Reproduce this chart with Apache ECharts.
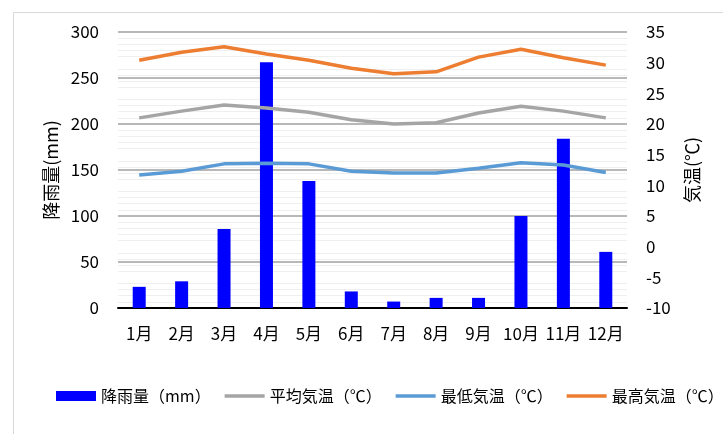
<!DOCTYPE html>
<html>
<head>
<meta charset="utf-8">
<script src="https://cdn.jsdelivr.net/npm/echarts@6/dist/echarts.min.js"></script>
<style>
html,body{margin:0;padding:0;background:#fff;}
#c{width:723px;height:434px;}
</style>
</head>
<body>
<div id="c"></div>
<script>
const months = ['1月','2月','3月','4月','5月','6月','7月','8月','9月','10月','11月','12月'];
const rainfall = [23, 29, 86, 267, 138, 18, 7, 11, 11, 100, 184, 61];
const avgTemp = [21.0, 22.1, 23.1, 22.6, 21.9, 20.7, 20.0, 20.2, 21.8, 22.9, 22.1, 21.0];
const minTemp = [11.7, 12.3, 13.5, 13.6, 13.5, 12.3, 12.0, 12.0, 12.8, 13.7, 13.3, 12.1];
const maxTemp = [30.4, 31.7, 32.6, 31.4, 30.4, 29.1, 28.2, 28.5, 30.9, 32.2, 30.8, 29.6];
const seriesNames = ['降雨量（mm）', '平均気温（℃）', '最低気温（℃）', '最高気温（℃）'];

const FONT = '"Noto Sans CJK JP", "Noto Sans", sans-serif';
const LINE_ICON = 'path://M0,0 L40,0 L40,3.5 L0,3.5 Z';
const chart = echarts.init(document.getElementById('c'));
chart.setOption({
  animation: false,
  textStyle: { fontFamily: FONT },
  graphic: [{
    type: 'rect', left: 11, top: 10, z: -10,
    shape: { width: 900, height: 600 },
    style: { fill: 'none', stroke: '#d9d9d9', lineWidth: 1 }
  }],
  grid: { left: 118, right: 96, top: 32, bottom: 126 },
  legend: {
    left: 51, top: 383, width: 700,
    itemWidth: 40, itemHeight: 10, itemGap: 14,
    textStyle: { fontFamily: FONT, fontSize: 16, color: '#000' },
    data: [
      { name: seriesNames[0], icon: 'rect' },
      { name: seriesNames[1], icon: LINE_ICON },
      { name: seriesNames[2], icon: LINE_ICON },
      { name: seriesNames[3], icon: LINE_ICON }
    ]
  },
  xAxis: {
    type: 'category', data: months,
    axisLine: { lineStyle: { color: '#000', width: 2 } },
    axisTick: { show: false },
    axisLabel: { color: '#000', fontSize: 17, margin: 17, interval: 0, fontFamily: FONT }
  },
  yAxis: [{
    type: 'value', min: 0, max: 300, interval: 50,
    name: '降雨量(mm)', nameLocation: 'middle', nameGap: 58, nameRotate: 90,
    nameTextStyle: { color: '#000', fontSize: 18, fontFamily: FONT },
    axisLine: { show: false }, axisTick: { show: false },
    axisLabel: { color: '#000', fontSize: 17, margin: 19, fontFamily: FONT },
    splitLine: { show: true, lineStyle: { color: '#a0a0a0', width: 1.5 } }
  }, {
    type: 'value', min: -10, max: 35, interval: 5,
    name: '気温(℃)', nameLocation: 'middle', nameGap: 56, nameRotate: 90,
    nameTextStyle: { color: '#000', fontSize: 18, fontFamily: FONT },
    axisLine: { show: false }, axisTick: { show: false },
    axisLabel: { color: '#000', fontSize: 17, margin: 19, fontFamily: FONT },
    splitLine: { show: false },
    minorTick: { show: false, splitNumber: 5 },
    minorSplitLine: { show: true, lineStyle: { color: '#efefef', width: 1 } }
  }],
  series: [{
    name: seriesNames[0], type: 'bar', data: rainfall, yAxisIndex: 0,
    barWidth: 13, itemStyle: { color: '#0000ff' }, z: 2
  }, {
    name: seriesNames[1], type: 'line', data: avgTemp, yAxisIndex: 1,
    symbol: 'none', lineStyle: { color: '#a5a5a5', width: 3.5 }, itemStyle: { color: '#a5a5a5' }, z: 3
  }, {
    name: seriesNames[2], type: 'line', data: minTemp, yAxisIndex: 1,
    symbol: 'none', lineStyle: { color: '#5b9bd5', width: 3.5 }, itemStyle: { color: '#5b9bd5' }, z: 3
  }, {
    name: seriesNames[3], type: 'line', data: maxTemp, yAxisIndex: 1,
    symbol: 'none', lineStyle: { color: '#ed7d31', width: 3.5 }, itemStyle: { color: '#ed7d31' }, z: 3
  }]
});
</script>
</body>
</html>
